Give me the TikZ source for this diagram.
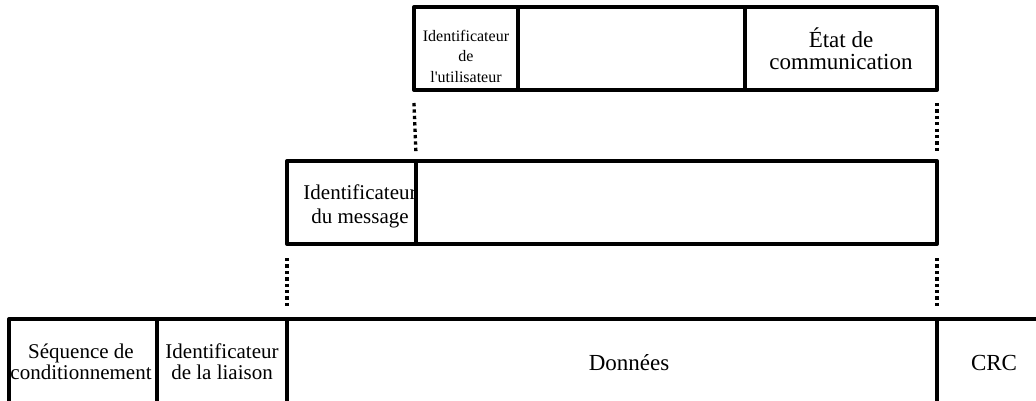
\documentclass[tikz,border=0pt]{standalone}
\usepackage{fontspec}
\setmainfont{Liberation Serif}
\tikzset{
  cell/.style={draw, line width=4pt, line join=round, rectangle, inner sep=0pt, outer sep=0pt, minimum height=83pt},
  lbl/.style={align=center, inner sep=0pt, font=\fontsize{21}{21}\selectfont},
  lblbig/.style={align=center, inner sep=0pt, font=\fontsize{23}{22}\selectfont},
  lblsmall/.style={align=center, inner sep=0pt, font=\fontsize{16}{20.5}\selectfont},
  dots/.style={line width=3.3pt, dash pattern=on 3.3pt off 3.1pt}
}
\begin{document}
\begin{tikzpicture}[x=1pt,y=-1pt]
\useasboundingbox (0,0) rectangle (1036,401);
\clip (0,0) rectangle (1036,401);

% upper layer: user identifier, unused field, communication state
\node[cell, minimum width=104pt] (uid) at (466,48.5) {};
\node[cell, minimum width=227pt] (ufree) at (631.5,48.5) {};
\node[cell, minimum width=192pt] (etat) at (841,48.5) {};
\node[lblsmall] (uidtxt) at (466,56) {Identificateur\\de\\l\textquotesingle utilisateur};
\node[lblbig] (etattxt) at (841,49) {État de\\communication};

% middle layer: message identifier and message body
\node[cell, minimum width=129pt] (msgid) at (351.5,202.5) {};
\node[cell, minimum width=521pt] (msgbody) at (676.5,202.5) {};
\node[lbl, font=\fontsize{21}{24}\selectfont] (msgtxt) at (360,206) {Identificateur\\du message};

% lower layer: the frame on the link (its lower edge lies below the view)
\node[cell, minimum width=148pt, minimum height=89pt] (seq) at (83,363.5) {};
\node[cell, minimum width=130pt, minimum height=89pt] (liaison) at (222,363.5) {};
\node[cell, minimum width=650pt, minimum height=89pt] (donnees) at (612,363.5) {};
\node[cell, minimum width=143pt, minimum height=89pt] (crc) at (1008.5,363.5) {};
\node[lbl] (seqtxt) at (81,362) {Séquence de\\conditionnement};
\node[lbl] (liaisontxt) at (222,362) {Identificateur\\de la liaison};
\node[lblbig] (donneestxt) at (629,363) {Données};
\node[lblbig] (crctxt) at (994,363) {CRC};

% dotted links between the layers
\draw[dots] ([yshift=-13pt]uid.south west) -- ([yshift=7pt]msgbody.north west);
\draw[dots] ([yshift=-13pt]etat.south east) -- ([yshift=7pt]msgbody.north east);
\draw[dots] ([yshift=-14pt]msgid.south west) -- ([yshift=10pt]donnees.north west);
\draw[dots] ([yshift=-14pt]msgbody.south east) -- ([yshift=10pt]donnees.north east);
\end{tikzpicture}
\end{document}
